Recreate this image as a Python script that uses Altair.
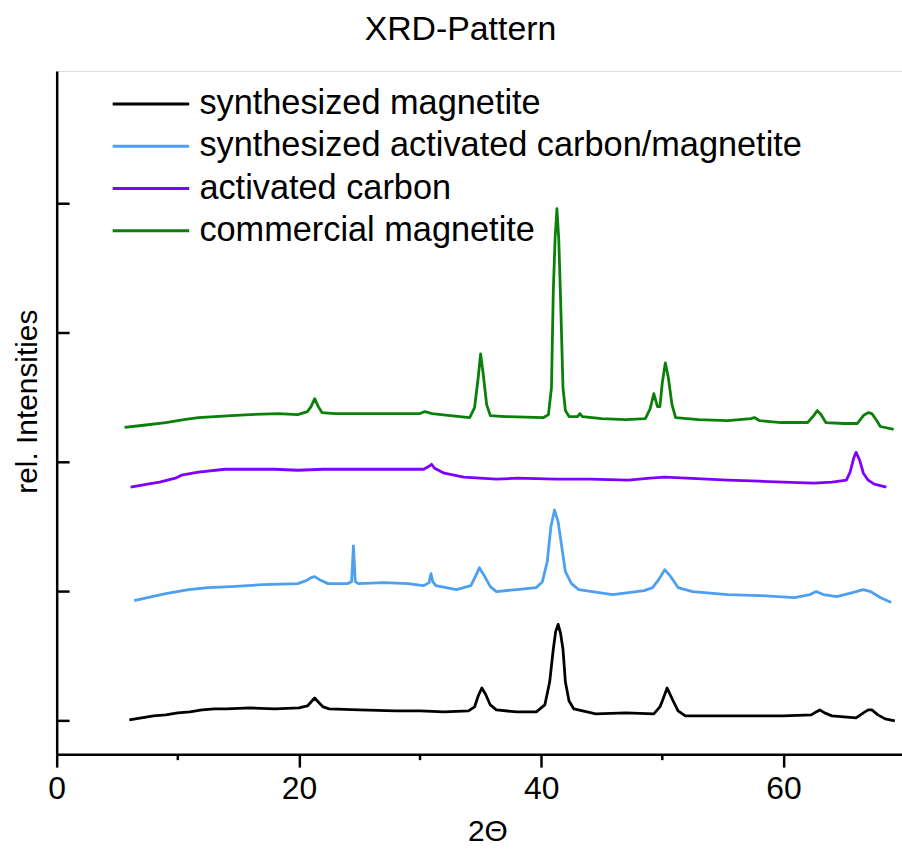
import altair as alt
import pandas as pd

# ---- data (2Theta, relative intensity incl. vertical offset) ----
series_names = [
    "synthesized magnetite",
    "synthesized activated carbon/magnetite",
    "activated carbon",
    "commercial magnetite",
]
series_colors = ["#000000", "#4d9ff0", "#8000ff", "#0a800a"]

black_x = [6.0, 7.0, 8.0, 9.0, 10.0, 11.0, 12.0, 13.0, 14.0, 16.0, 18.0, 20.0, 20.7, 21.0, 21.3, 21.6,
           22.0, 22.5, 25.0, 28.0, 30.0, 32.0, 34.0, 34.5, 34.8, 35.1, 35.4, 35.8, 36.3, 38.0, 39.6,
           40.3, 40.7, 41.0, 41.2, 41.4, 41.6, 41.8, 42.0, 42.3, 42.7, 44.5, 47.0, 49.3, 49.8, 50.0,
           50.4, 50.9, 51.3, 51.9, 54.0, 57.0, 60.0, 62.3, 62.7, 63.0, 63.4, 64.0, 65.0, 66.0, 66.6,
           67.0, 67.3, 67.8, 68.4, 69.2]
black_y = [1, 3, 5, 6, 8, 9, 11, 12, 12, 13, 12, 13, 15, 19, 23, 19,
           14, 12, 11, 10, 10, 9, 10, 14, 25, 33, 27, 16, 11, 9, 9,
           16, 39, 72, 90, 97, 88, 72, 39, 20, 12, 7, 8, 7, 14, 20,
           33, 20, 10, 5, 5, 5, 5, 6, 9, 11, 8, 5, 4, 3, 8,
           11, 11, 6, 2, 0]

blue_x = [6.4, 7.5, 9.0, 10.9, 12.5, 14.4, 17.0, 19.9, 20.6, 21.0, 21.3, 21.7, 22.4, 24.0, 24.35,
          24.5, 24.65, 24.9, 27.0, 29.0, 30.3, 30.75, 30.9, 31.05, 31.3, 33.0, 34.2, 34.6, 34.9,
          35.3, 35.8, 36.3, 38.0, 39.6, 40.1, 40.5, 40.8, 41.1, 41.4, 41.7, 42.0, 42.5, 43.1, 45.9,
          48.5, 49.2, 49.7, 50.2, 50.7, 51.3, 52.5, 55.4, 58.0, 60.9, 62.2, 62.7, 63.3, 64.4, 65.7,
          66.6, 67.2, 68.0, 68.9]
blue_y = [121, 124, 128, 132, 134, 135, 137, 138, 141, 144, 145, 142, 138, 138, 140,
          176, 140, 138, 139, 138, 136, 139, 148, 140, 136, 132, 136, 146, 154,
          146, 135, 130, 132, 134, 140, 160, 195, 212, 200, 175, 150, 138, 132, 127,
          131, 134, 142, 152, 145, 134, 130, 127, 126, 124, 127, 130, 127, 125, 129,
          132, 130, 124, 119]

purple_x = [6.1, 7.5, 8.5, 9.8, 10.3, 11.7, 13.9, 16.0, 18.0, 19.9, 22.0, 25.0, 28.0, 30.3, 30.75,
            30.95, 31.2, 32.0, 33.6, 36.3, 38.0, 41.2, 44.0, 47.2, 49.0, 50.2, 52.0, 55.4, 58.0,
            60.0, 62.5, 64.0, 65.2, 65.5, 65.8, 66.0, 66.3, 66.6, 67.0, 67.5, 68.5]
purple_y = [235, 238, 240, 244, 247, 250, 253, 253, 253, 252, 253, 253, 253, 253, 256,
            258, 254, 249, 245, 243, 244, 243, 243, 242, 244, 245, 244, 242, 241,
            240, 239, 240, 242, 250, 264, 270, 262, 249, 242, 238, 235]

green_x = [5.6, 7.0, 9.0, 10.5, 11.7, 14.4, 16.0, 18.3, 19.9, 20.7, 21.0, 21.3, 21.6, 21.9, 23.0,
           25.0, 28.0, 30.0, 30.4, 31.0, 32.5, 34.1, 34.5, 34.8, 35.0, 35.2, 35.5, 35.8, 37.0,
           40.2, 40.6, 40.85, 41.0, 41.15, 41.3, 41.45, 41.6, 41.8, 42.0, 42.3, 43.0, 43.2, 43.4,
           45.0, 47.0, 48.6, 49.0, 49.3, 49.6, 49.8, 50.0, 50.25, 50.5, 50.8, 51.1, 53.0, 55.4,
           57.3, 57.6, 58.0, 59.8, 62.0, 62.5, 62.8, 63.1, 63.5, 65.0, 66.1, 66.6, 67.0, 67.3,
           67.7, 68.0, 69.1]
green_y = [295, 297, 300, 303, 305, 307, 308, 309, 308, 311, 316, 324, 316, 310, 309,
           309, 309, 309, 311, 309, 307, 305, 315, 345, 369, 350, 318, 307, 306,
           305, 308, 335, 432, 485, 515, 485, 425, 335, 312, 306, 306, 309, 306,
           304, 303, 304, 314, 329, 316, 316, 340, 360, 345, 318, 305, 303, 302,
           304, 305, 302, 300, 300, 307, 312, 308, 300, 299, 299, 307, 310, 309,
           302, 296, 293]

y_tick_values = [0, 130, 260, 390, 520]
x_major_ticks = [0, 20, 40, 60]
x_minor_ticks = [10, 30, 50]

# ---- build table ----
rows = []
for name, xs, ys in zip(series_names,
                        [black_x, blue_x, purple_x, green_x],
                        [black_y, blue_y, purple_y, green_y]):
    for xv, yv in zip(xs, ys):
        rows.append({"series": name, "two_theta": xv, "intensity": yv})
df = pd.DataFrame(rows)

FONT = "Liberation Sans"
xscale = alt.Scale(domain=[0, 69.79], nice=False, zero=False)
yscale = alt.Scale(domain=[-33.5, 653.5], nice=False, zero=False)

lines = alt.Chart(df).mark_line(strokeWidth=2.8, strokeJoin="round", clip=True).encode(
    x=alt.X("two_theta:Q", scale=xscale,
            axis=alt.Axis(values=x_major_ticks, title="2Θ", grid=False,
                          tickSize=13, tickWidth=2.5, tickColor="black",
                          domainColor="black", domainWidth=2.5,
                          labelFont=FONT, labelFontSize=32, labelColor="black",
                          labelPadding=7, labelFlush=False, format="d",
                          titleFont=FONT, titleFontSize=30, titleFontWeight="normal",
                          titleColor="black", titleX=433, titleY=87,
                          titleBaseline="alphabetic", titleAnchor="start", titleAlign="center")),
    y=alt.Y("intensity:Q", scale=yscale,
            axis=alt.Axis(title="rel. Intensities", grid=False, ticks=False, labels=False,
                          domainColor="black", domainWidth=2.5,
                          titleFont=FONT, titleFontSize=30, titleFontWeight="normal",
                          titleColor="black", titleAngle=270, titleX=-20, titleY=332,
                          titleBaseline="alphabetic", titleAlign="center")),
    color=alt.Color("series:N",
                    scale=alt.Scale(domain=series_names, range=series_colors),
                    legend=alt.Legend(title=None, orient="none", legendX=77.5, legendY=16,
                                      symbolType="M-4,0H4", symbolSize=370,
                                      symbolStrokeWidth=3, labelFont=FONT,
                                      labelFontSize=34.5, labelColor="black",
                                      labelOffset=31.5, labelLimit=0, rowPadding=7.5,
                                      padding=0)),
    order=alt.Order("two_theta:Q"),
)

ytick_df = pd.DataFrame({"v": y_tick_values})
yticks = alt.Chart(ytick_df).mark_rule(color="black", strokeWidth=2.5).encode(
    y=alt.Y("v:Q", scale=yscale),
    x=alt.value(0), x2=alt.value(13),
)

minor_df = pd.DataFrame({"m": x_minor_ticks})
xminor = alt.Chart(minor_df).mark_rule(color="black", strokeWidth=2.5).encode(
    x=alt.X("m:Q", scale=xscale),
    y=alt.value(687), y2=alt.value(693),
)

chart = alt.layer(lines, yticks, xminor).properties(
    width=850, height=687,
    title=alt.TitleParams("XRD-Pattern", font=FONT, fontSize=34, fontWeight="normal",
                          color="black", anchor="middle", dx=-19, offset=-3,
                          baseline="alphabetic", frame="group"),
    autosize=alt.AutoSizeParams(type="none"),
    padding={"left": 57, "top": 69, "right": 0, "bottom": 95},
).configure_view(stroke="black", strokeWidth=2.5).configure(background="white")

chart.save("out.html", embed_options={"renderer": "svg", "actions": False})
